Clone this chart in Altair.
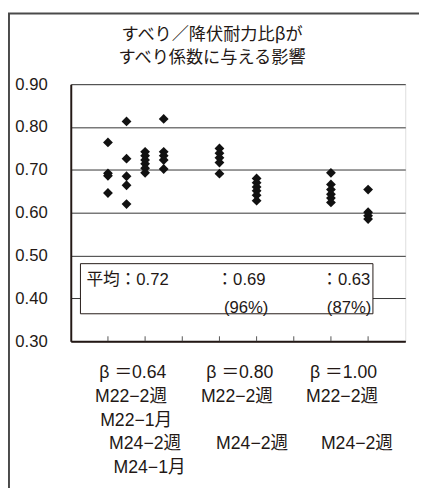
import altair as alt
import pandas as pd

# ---- data ----
pt_x = [1]*4 + [1.5]*5 + [2]*6 + [2.5]*5 + [4]*5 + [5]*6 + [7]*6 + [8]*4
pt_y = [0.764, 0.692, 0.686, 0.646,
        0.813, 0.726, 0.685, 0.664, 0.620,
        0.742, 0.733, 0.723, 0.714, 0.704, 0.693,
        0.819, 0.742, 0.733, 0.723, 0.702,
        0.750, 0.739, 0.728, 0.717, 0.691,
        0.680, 0.670, 0.660, 0.651, 0.641, 0.628,
        0.693, 0.666, 0.654, 0.643, 0.634, 0.624,
        0.654, 0.601, 0.593, 0.585]

ann_text = ["平均：0.72", "：0.69", "(96%)", "：0.63", "(87%)"]
ann_x = [0.42, 3.92, 4.12, 6.74, 6.89]
ann_y = [0.442, 0.442, 0.378, 0.442, 0.378]

box_x, box_x2, box_y, box_y2 = [0.26], [8.13], [0.481], [0.364]

lab_text = ["β ＝0.64", "β ＝0.80", "β ＝1.00",
            "M22−2週", "M22−2週", "M22−2週",
            "M22−1月",
            "M24−2週", "M24−2週", "M24−2週",
            "M24−1月"]
lab_x = [1.67, 4.55, 7.34, 1.62, 4.47, 7.30, 1.76, 2.00, 4.88, 7.70, 2.12]
lab_row = [0, 0, 0, 1, 1, 1, 2, 3, 3, 3, 4]

tick_x = [1, 2, 3, 4, 5, 6, 7, 8]
y_ticks = [0.3, 0.4, 0.5, 0.6, 0.7, 0.8, 0.9]

title_lines = ["すべり／降伏耐力比βが", "すべり係数に与える影響"]
title_row = [0, 1]

FONT = "Liberation Sans, Noto Sans CJK JP, sans-serif"
INK = "#231815"

pts = pd.DataFrame({"x": pt_x, "y": pt_y})
ann = pd.DataFrame({"t": ann_text, "x": ann_x, "y": ann_y})
box = pd.DataFrame({"x": box_x, "x2": box_x2, "y": box_y, "y2": box_y2})
labs = pd.DataFrame({"t": lab_text, "x": lab_x, "row": lab_row})
ticks = pd.DataFrame({"x": tick_x})
ttl = pd.DataFrame({"t": title_lines, "row": title_row})

xs = alt.Scale(domain=[0, 9], nice=False, zero=False)
ys = alt.Scale(domain=[0.3, 0.9], nice=False, zero=False)

xax = alt.Axis(labels=False, ticks=False, grid=False, title=None,
               domainColor=INK, domainWidth=2)
yax = alt.Axis(values=y_ticks, format=".2f", title=None, tickSize=0,
               labelPadding=24, labelFontSize=17, labelFont=FONT,
               labelColor=INK, grid=True, gridColor="#333", gridWidth=1,
               domainColor=INK, domainWidth=2)

frame = alt.Chart(pd.DataFrame({"a": [0]})).mark_rect(
    fillOpacity=0, stroke="#4a4a4a", strokeWidth=2
).encode(x=alt.value(-63), x2=alt.value(420), y=alt.value(-72), y2=alt.value(520))

boxl = alt.Chart(box).mark_rect(fill="white", stroke=INK, strokeWidth=1).encode(
    x=alt.X("x:Q", scale=xs, axis=xax), x2="x2",
    y=alt.Y("y:Q", scale=ys, axis=yax), y2="y2")

tickl = alt.Chart(ticks).mark_rule(color="#555", strokeWidth=1).encode(
    x=alt.X("x:Q", scale=xs), y=alt.value(262), y2=alt.value(257))

points = alt.Chart(pts).mark_point(shape="diamond", filled=True, size=100,
                                   color="#111", opacity=1).encode(
    x=alt.X("x:Q", scale=xs), y=alt.Y("y:Q", scale=ys))

anntext = alt.Chart(ann).mark_text(align="left", baseline="middle", fontSize=17,
                                   font=FONT, color=INK).encode(
    x=alt.X("x:Q", scale=xs), y=alt.Y("y:Q", scale=ys), text="t")

main = alt.layer(frame, boxl, tickl, points, anntext)

labels = alt.Chart(labs).mark_text(align="center", baseline="middle", fontSize=18,
                                   font=FONT, color=INK).encode(
    x=alt.X("x:Q", scale=xs),
    y=alt.Y("row:Q", scale=alt.Scale(domain=[0, 4], range=[295, 391]), axis=None),
    text="t")

title = alt.Chart(ttl).mark_text(align="center", baseline="middle", fontSize=17.5,
                                 font="Noto Sans CJK JP", color=INK).encode(
    x=alt.value(144),
    y=alt.Y("row:Q", scale=alt.Scale(domain=[0, 1], range=[-50, -27]), axis=None),
    text="t")

chart = alt.layer(main, labels, title).resolve_scale(y="independent").properties(
    width=341, height=262,
    autosize=alt.AutoSizeParams(type="none"),
    padding={"left": 64, "top": 73, "right": 14, "bottom": 145},
).configure_view(stroke=INK, strokeWidth=1.2).configure(background="white")

chart.save("out.html", embed_options={"renderer": "svg", "actions": False})
